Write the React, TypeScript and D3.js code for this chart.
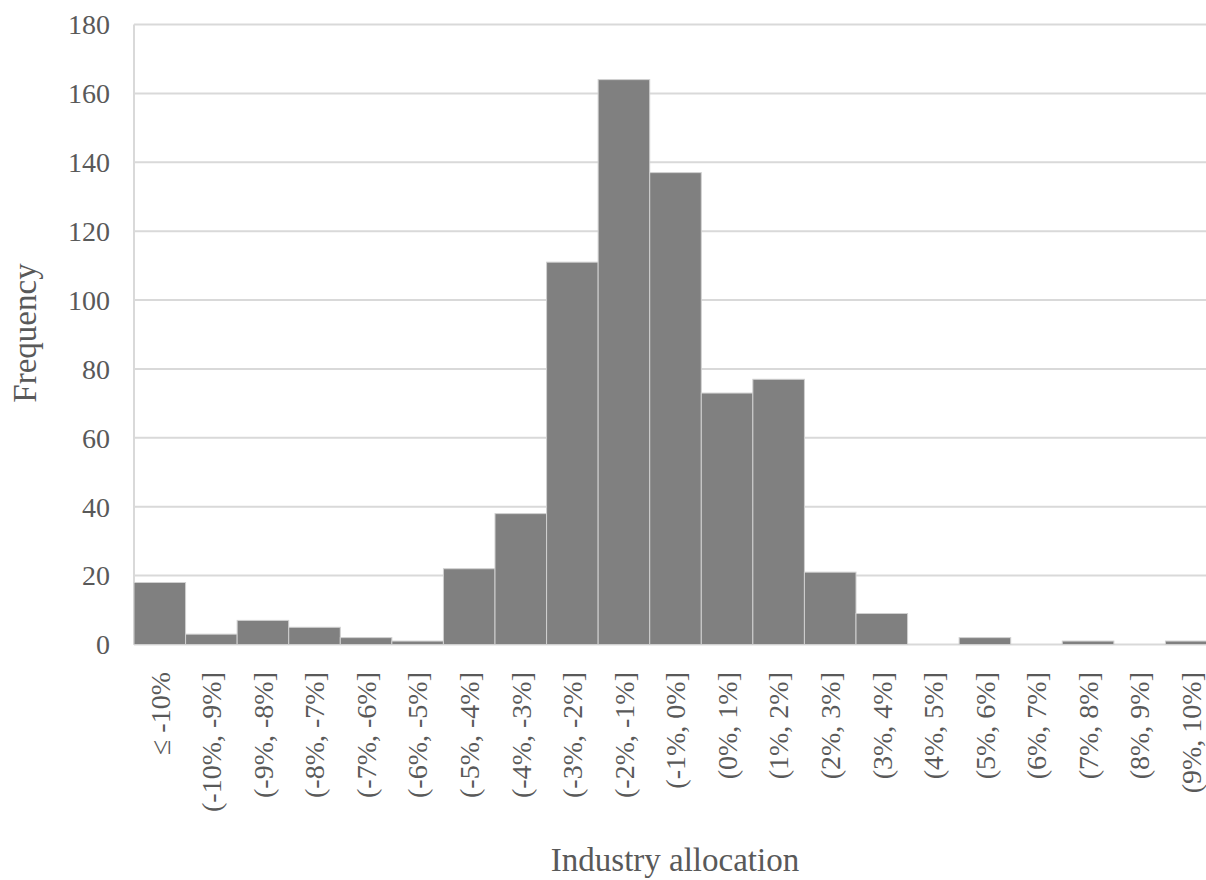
import React from "react";
import * as d3 from "d3";

const categories = [
  "≤ -10%", "(-10%, -9%]", "(-9%, -8%]", "(-8%, -7%]", "(-7%, -6%]", "(-6%, -5%]",
  "(-5%, -4%]", "(-4%, -3%]", "(-3%, -2%]", "(-2%, -1%]", "(-1%, 0%]", "(0%, 1%]",
  "(1%, 2%]", "(2%, 3%]", "(3%, 4%]", "(4%, 5%]", "(5%, 6%]", "(6%, 7%]", "(7%, 8%]",
  "(8%, 9%]", "(9%, 10%]",
];
const frequency = [18, 3, 7, 5, 2, 1, 22, 38, 111, 164, 137, 73, 77, 21, 9, 0, 2, 0, 1, 0, 1];
const yTicks = [0, 20, 40, 60, 80, 100, 120, 140, 160, 180];

const W = 1206;
const H = 880;
const left = 134;
const right = 1217;
const top = 24.5;
const bottom = 644.5;
const font = "'Liberation Serif', 'Times New Roman', serif";
const textColor = "#595959";

export default function App() {
  const x = d3.scaleBand<string>().domain(categories).range([left, right]).padding(0);
  const y = d3.scaleLinear().domain([0, 180]).range([bottom, top]);
  return (
    <svg width={W} height={H} style={{ position: "absolute", left: 0, top: 0, background: "#fff" }}>
      {yTicks.map((t) => (
        <g key={t}>
          <line x1={left} x2={W + 20} y1={y(t)} y2={y(t)} stroke="#d9d9d9" strokeWidth={2} />
          <text x={left - 24} y={y(t)} dy="0.35em" textAnchor="end" fontFamily={font} fontSize={28} fill={textColor}>
            {t}
          </text>
        </g>
      ))}
      <line x1={left} x2={left} y1={top} y2={bottom} stroke="#d9d9d9" strokeWidth={2} />
      {categories.map((c, i) => (
        <rect
          key={c}
          x={x(c)!}
          y={y(frequency[i])}
          width={x.bandwidth()}
          height={bottom - y(frequency[i])}
          fill="#808080"
          stroke="#d0d0d0"
          strokeWidth={frequency[i] > 0 ? 1 : 0}
        />
      ))}
      {categories.map((c) => {
        const cx = x(c)! + x.bandwidth() / 2;
        return (
          <text
            key={c}
            transform={`translate(${cx},672) rotate(-90)`}
            dy="0.35em"
            textAnchor="end"
            fontFamily={font}
            fontSize={28}
            fill={textColor}
          >
            {c}
          </text>
        );
      })}
      <text x={675} y={871} textAnchor="middle" fontFamily={font} fontSize={33} fill={textColor}>
        Industry allocation
      </text>
      <text transform={`translate(24,333) rotate(-90)`} dy="0.35em" textAnchor="middle" fontFamily={font} fontSize={33} fill={textColor}>
        Frequency
      </text>
    </svg>
  );
}
